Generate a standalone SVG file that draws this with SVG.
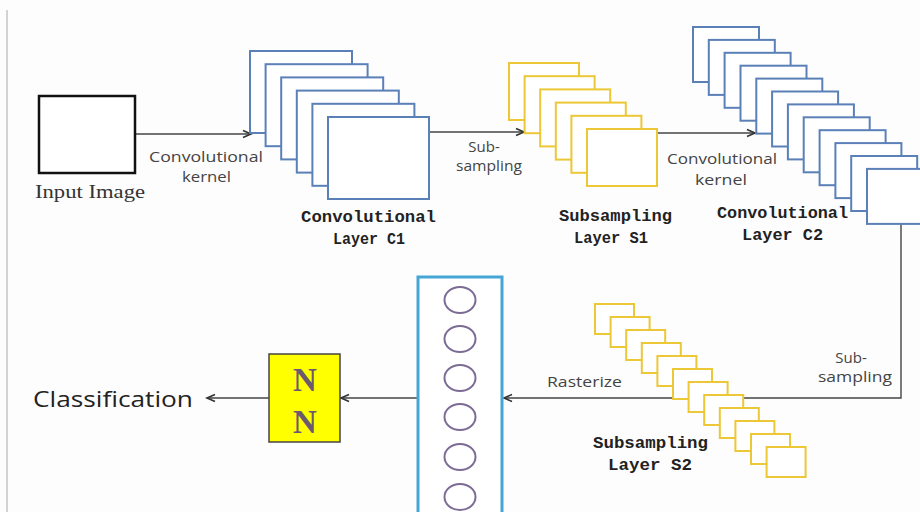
<svg xmlns="http://www.w3.org/2000/svg" width="920" height="512" viewBox="0 0 920 512">
<defs>
<marker id="arr" markerUnits="userSpaceOnUse" markerWidth="12" markerHeight="12" refX="9" refY="5" orient="auto">
<path d="M1,1.5 L9,5 L1,8.5" fill="none" stroke="#333" stroke-width="1.6"/>
</marker>
</defs>
<style>
.conn{fill:none;stroke:#444;stroke-width:1.4}
.blue{fill:#fff;stroke:#5b80b8;stroke-width:2}
.yel{fill:#fff;stroke:#ecc736;stroke-width:2}
.lbl{font-family:"Open Sans","Liberation Sans",sans-serif;font-size:15px;fill:#444}
.mono{font-family:"Liberation Mono","DejaVu Sans Mono",monospace;font-size:16px;font-weight:bold;fill:#222}
.circ{fill:none;stroke:#7b6b95;stroke-width:2}
</style>
<rect x="0" y="0" width="920" height="512" fill="#fdfdfd"/>
<line x1="7" y1="10" x2="7" y2="512" stroke="#c4c4c4" stroke-width="1.5"/>

<g id="connectors">
<line class="conn" x1="135" y1="134" x2="251" y2="134" marker-end="url(#arr)"/>
<line class="conn" x1="429" y1="132" x2="524" y2="132" marker-end="url(#arr)"/>
<line class="conn" x1="657" y1="133" x2="755" y2="133" marker-end="url(#arr)"/>
<path class="conn" d="M901,224 V398 H504" marker-end="url(#arr)"/>
<line class="conn" x1="418" y1="398" x2="341" y2="398" marker-end="url(#arr)"/>
<line class="conn" x1="269" y1="398" x2="207" y2="398" marker-end="url(#arr)"/>
<text class="lbl" x="149" y="162" textLength="114" lengthAdjust="spacingAndGlyphs">Convolutional</text>
<text class="lbl" x="182" y="182" textLength="49" lengthAdjust="spacingAndGlyphs">kernel</text>
<text class="lbl" x="484" y="152" text-anchor="middle">Sub-</text>
<text class="lbl" x="456" y="171" textLength="66" lengthAdjust="spacingAndGlyphs">sampling</text>
<text class="lbl" x="667" y="164" textLength="110" lengthAdjust="spacingAndGlyphs">Convolutional</text>
<text class="lbl" x="695" y="185" textLength="52" lengthAdjust="spacingAndGlyphs">kernel</text>
<text class="lbl" x="851" y="363" text-anchor="middle">Sub-</text>
<text class="lbl" x="818" y="382" textLength="74" lengthAdjust="spacingAndGlyphs">sampling</text>
<text class="lbl" x="547" y="387" textLength="75" lengthAdjust="spacingAndGlyphs">Rasterize</text>
</g>

<g id="input-image">
<rect x="39" y="96" width="96" height="77" fill="#fff" stroke="#111" stroke-width="2.5"/>
<text x="35" y="198" font-family="'Liberation Serif','Times New Roman',serif" font-size="18" fill="#333" textLength="110" lengthAdjust="spacingAndGlyphs">Input Image</text>
</g>

<g id="conv-c1">
<rect class="blue" x="250" y="51" width="102" height="82"/>
<rect class="blue" x="265.6" y="64.2" width="102" height="82"/>
<rect class="blue" x="281.2" y="77.4" width="102" height="82"/>
<rect class="blue" x="296.8" y="90.6" width="102" height="82"/>
<rect class="blue" x="312.4" y="103.8" width="102" height="82"/>
<rect class="blue" x="328" y="117" width="101" height="82"/>
<text class="mono" x="301" y="222" textLength="135" lengthAdjust="spacingAndGlyphs">Convolutional</text>
<text class="mono" x="333" y="244" textLength="72" lengthAdjust="spacingAndGlyphs">Layer C1</text>
</g>

<g id="sub-s1">
<rect class="yel" x="509" y="63" width="70" height="57"/>
<rect class="yel" x="524.6" y="76.2" width="70" height="57"/>
<rect class="yel" x="540.2" y="89.4" width="70" height="57"/>
<rect class="yel" x="555.8" y="102.6" width="70" height="57"/>
<rect class="yel" x="571.4" y="115.8" width="70" height="57"/>
<rect class="yel" x="587" y="129" width="70" height="57"/>
<text class="mono" x="559" y="221" textLength="113" lengthAdjust="spacingAndGlyphs">Subsampling</text>
<text class="mono" x="574" y="243" textLength="74" lengthAdjust="spacingAndGlyphs">Layer S1</text>
</g>

<g id="conv-c2">
<rect class="blue" x="693" y="27" width="66" height="55"/>
<rect class="blue" x="708.8" y="39.9" width="66" height="55"/>
<rect class="blue" x="724.6" y="52.8" width="66" height="55"/>
<rect class="blue" x="740.5" y="65.7" width="66" height="55"/>
<rect class="blue" x="756.3" y="78.6" width="66" height="55"/>
<rect class="blue" x="772.1" y="91.5" width="66" height="55"/>
<rect class="blue" x="787.9" y="104.4" width="66" height="55"/>
<rect class="blue" x="803.7" y="117.3" width="66" height="55"/>
<rect class="blue" x="819.6" y="130.2" width="66" height="55"/>
<rect class="blue" x="835.4" y="143.1" width="66" height="55"/>
<rect class="blue" x="851.2" y="156" width="66" height="55"/>
<rect class="blue" x="867" y="168.9" width="66" height="55"/>
<text class="mono" x="717" y="218" textLength="131" lengthAdjust="spacingAndGlyphs">Convolutional</text>
<text class="mono" x="742" y="240" textLength="81" lengthAdjust="spacingAndGlyphs">Layer C2</text>
</g>

<g id="sub-s2">
<rect class="yel" x="595" y="304" width="39" height="30"/>
<rect class="yel" x="610.6" y="317" width="39" height="30"/>
<rect class="yel" x="626.2" y="330" width="39" height="30"/>
<rect class="yel" x="641.8" y="343" width="39" height="30"/>
<rect class="yel" x="657.4" y="356" width="39" height="30"/>
<rect class="yel" x="673" y="369" width="39" height="30"/>
<rect class="yel" x="688.6" y="382" width="39" height="30"/>
<rect class="yel" x="704.2" y="395" width="39" height="30"/>
<rect class="yel" x="719.8" y="408" width="39" height="30"/>
<rect class="yel" x="735.4" y="421" width="39" height="30"/>
<rect class="yel" x="751" y="434" width="39" height="30"/>
<rect class="yel" x="766.6" y="447" width="39" height="30"/>
<text class="mono" x="593" y="448" textLength="115" lengthAdjust="spacingAndGlyphs">Subsampling</text>
<text class="mono" x="608" y="470" textLength="84" lengthAdjust="spacingAndGlyphs">Layer S2</text>
</g>

<g id="flatten">
<rect x="418" y="277" width="84" height="250" fill="#fff" stroke="#45a5d5" stroke-width="3"/>
<ellipse class="circ" cx="460" cy="300" rx="15.5" ry="13"/>
<ellipse class="circ" cx="460" cy="339" rx="15.5" ry="13"/>
<ellipse class="circ" cx="460" cy="378" rx="15.5" ry="13"/>
<ellipse class="circ" cx="460" cy="417" rx="15.5" ry="13"/>
<ellipse class="circ" cx="460" cy="457" rx="15.5" ry="13"/>
<ellipse class="circ" cx="460" cy="497" rx="15.5" ry="13"/>
</g>

<g id="nn">
<rect x="269" y="354" width="71" height="88" fill="#ffff00" stroke="#444" stroke-width="1.5"/>
<text x="305" y="391" text-anchor="middle" font-family="'Liberation Serif','Times New Roman',serif" font-size="33" font-weight="bold" fill="#6b5a6e">N</text>
<text x="305" y="433" text-anchor="middle" font-family="'Liberation Serif','Times New Roman',serif" font-size="33" font-weight="bold" fill="#6b5a6e">N</text>
</g>

<g id="classification">
<text x="33" y="407" font-family="'Open Sans','Liberation Sans',sans-serif" font-size="21" fill="#222" textLength="160" lengthAdjust="spacingAndGlyphs">Classification</text>
</g>
</svg>
